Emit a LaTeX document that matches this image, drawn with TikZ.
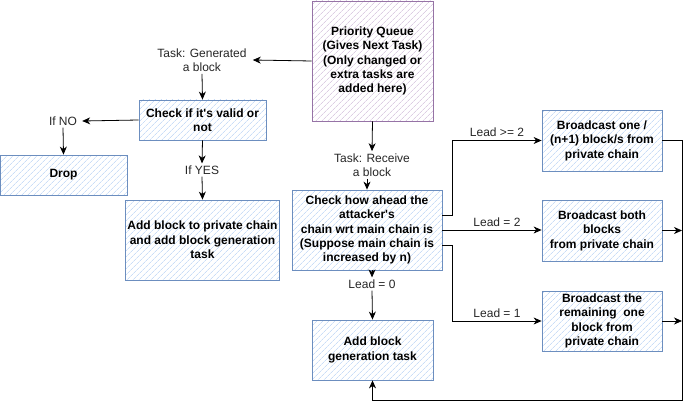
\documentclass[tikz,border=0pt]{standalone}
\usepackage{fontspec}
\setmainfont{Liberation Sans}[Ligatures=TeXOff]
\usetikzlibrary{arrows.meta,patterns.meta}
\definecolor{boxblue}{HTML}{6C8EBF}
\definecolor{hatchblue}{HTML}{CADDF7}
\definecolor{boxpurple}{HTML}{9673A6}
\definecolor{hatchpurple}{HTML}{DCCDE3}
\begin{document}
\begin{tikzpicture}[x=1pt,y=-1pt,
  box/.style={draw=boxblue, line width=0.8pt, pattern={Lines[angle=45,distance=4pt,line width=0.7pt]},
    pattern color=hatchblue, font=\bfseries\fontsize{12}{14.4}\selectfont, align=center, inner sep=2pt},
  qbox/.style={box, draw=boxpurple, pattern color=hatchpurple},
  lbl/.style={font=\fontsize{12}{14.4}\selectfont, text=black!85, align=center, inner sep=2pt},
  arr/.style={-{Stealth[length=8pt,width=7pt,inset=2.5pt]}, line width=0.8pt}]
\useasboundingbox (0,0) rectangle (692,409);

\node[qbox, minimum width=121pt, minimum height=120pt] (pq) at (372.5,61) {Priority Queue\\(Gives Next Task)\\(Only changed or\\extra tasks are\\added here)};

\node[lbl] (gen) at (202,60) {Task: Generated\\a block};
\node[box, minimum width=127pt, minimum height=40pt] (valid) at (202.5,120) {Check if it's valid or\\not};
\node[lbl] (no) at (63,121) {If NO};
\node[box, minimum width=127pt, minimum height=40pt] (drop) at (63.5,175) {Drop};
\node[lbl] (yes) at (202,170) {If YES};
\node[box, minimum width=153pt, minimum height=80pt] (priv) at (202.5,240) {Add block to private chain\\and add block generation\\task};

\node[lbl] (recv) at (372,165) {Task: Receive\\a block};
\node[box, minimum width=150pt, minimum height=80pt] (ahead) at (367,230) {Check how ahead the\\attacker's\\chain wrt main chain is\\(Suppose main chain is\\increased by n)};
\node[lbl] (zero) at (372,284) {Lead = 0};
\node[box, minimum width=121pt, minimum height=60pt] (gentask) at (372.5,350) {Add block\\generation task};

\node[box, minimum width=120pt, minimum height=61pt] (one) at (602,140.5) {Broadcast one /\\(n+1) block/s from\\private chain};
\node[box, minimum width=120pt, minimum height=61pt] (both) at (602,230.5) {Broadcast both\\blocks\\from private chain};
\node[box, minimum width=120pt, minimum height=60pt] (rest) at (602,321) {Broadcast the\\remaining\ \ one\\block from\\private chain};
\coordinate (back) at (682,400);

\draw[arr] (pq.west) -- ([xshift=4pt]gen.east);
\draw[arr] (gen.south) -- (valid.north);
\draw[arr] (valid.west) -- ([xshift=3pt]no.east);
\draw[arr] (no.south) -- (drop.north);
\draw[arr] (valid.south) -- (yes.north);
\draw[arr] (yes.south) -- (priv.north);

\draw[arr] (pq.south) -- (recv.north);
\draw[arr] (recv.south -| ahead.north) -- (ahead.north);
\draw[arr] (ahead.south -| zero.north) -- (zero.north);
\draw[arr] (zero.south) -- (gentask.north);

\draw[arr] ([yshift=15pt]ahead.east) -- ++(10,0) |- node[lbl, pos=0.75, above=1pt] {Lead >= 2} (one.west);
\draw[arr] (ahead.east) -- node[lbl, pos=0.55, above=1pt] {Lead = 2} (ahead.east -| both.west);
\draw[arr] ([yshift=-15pt]ahead.east) -- ++(10,0) |- node[lbl, pos=0.75, above=1pt] {Lead = 1} (rest.west);

\draw[arr] (one.east) -| (back) -| (gentask.south);
\draw[arr] (both.east) -- (both.east -| back);
\draw[arr] (rest.east) -- (rest.east -| back);
\end{tikzpicture}
\end{document}
